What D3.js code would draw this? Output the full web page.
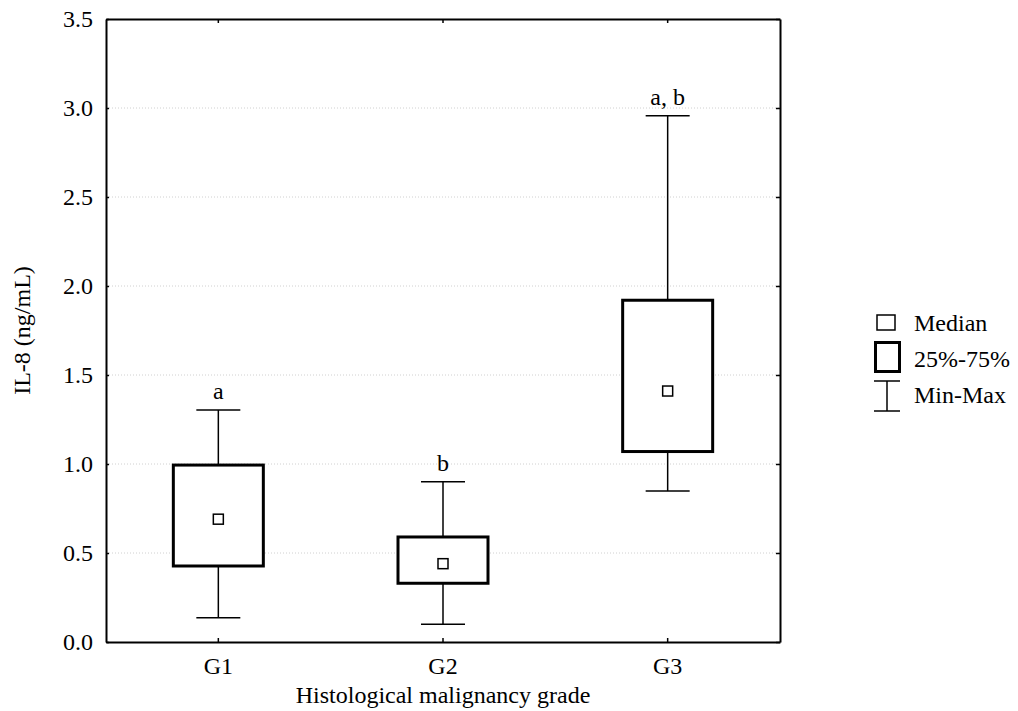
<!DOCTYPE html>
<html><head><meta charset="utf-8">
<script src="https://cdn.jsdelivr.net/npm/d3@7"></script>
<style>body{margin:0;background:#fff}svg{display:block}svg text{font-family:"Liberation Serif","Times New Roman",serif !important;fill:#000}</style>
</head><body>
<svg id="c" width="1018" height="711"></svg>
<script>
const categories = ["G1","G2","G3"];
const q1Values = [0.427, 0.33, 1.07];
const q3Values = [0.994, 0.59, 1.92];
const medianValues = [0.69, 0.44, 1.41];
const minValues = [0.136, 0.10, 0.848];
const maxValues = [1.303, 0.90, 2.957];
const groupLabels = ["a", "b", "a, b"];
const yTicks = [0, 0.5, 1.0, 1.5, 2.0, 2.5, 3.0, 3.5];

const svg = d3.select("#c");
const L = 106, R = 780, T = 19, B = 642;
const x = d3.scaleBand().domain(categories).range([L, R]);
const y = d3.scaleLinear().domain([0, 3.5]).range([B, T]);
const fs = 24;
const ff = '"Liberation Serif", "Times New Roman", serif';

// gridlines
svg.append("g").selectAll("line").data(yTicks.filter(d => d > 0 && d < 3.5)).join("line")
  .attr("x1", L).attr("x2", R).attr("y1", d => y(d)).attr("y2", d => y(d))
  .attr("stroke", "#d0d0d0").attr("stroke-width", 1).attr("stroke-dasharray", "1,2");

// axes
const fmt = d3.format(".1f");
const gl = svg.append("g").attr("transform", `translate(${L},0)`)
  .call(d3.axisLeft(y).tickValues(yTicks).tickFormat(fmt).tickSizeInner(-3).tickSizeOuter(0).tickPadding(13));
const gr = svg.append("g").attr("transform", `translate(${R},0)`)
  .call(d3.axisRight(y).tickValues(yTicks).tickFormat("").tickSizeInner(-4).tickSizeOuter(0));
const gb = svg.append("g").attr("transform", `translate(0,${B})`)
  .call(d3.axisBottom(x).tickSizeInner(-4).tickSizeOuter(0).tickPadding(15));
const gt = svg.append("g").attr("transform", `translate(0,${T})`)
  .call(d3.axisTop(x).tickFormat("").tickSizeInner(-4).tickSizeOuter(0));
[gl, gr, gb, gt].forEach(g => {
  g.attr("font-family", null).attr("font-size", null);
  g.selectAll("path").attr("stroke", "#000").attr("stroke-width", 2);
  g.selectAll("line").attr("stroke", "#000").attr("stroke-width", 1.5);
  g.selectAll("text").style("font-size", fs + "px").style("font-family", ff).attr("fill", "#000");
});
gb.selectAll("text").attr("dy", "0.71em");

const data = categories.map((c, i) => ({c, q1: q1Values[i], q3: q3Values[i], med: medianValues[i], mn: minValues[i], mx: maxValues[i], lab: groupLabels[i]}));
const boxW = 90, capW = 44, ms = 10;
const g = svg.append("g").selectAll("g").data(data).join("g")
  .attr("transform", d => `translate(${x(d.c) + x.bandwidth() / 2},0)`);
g.append("line").attr("x1", 0).attr("x2", 0).attr("y1", d => y(d.mx)).attr("y2", d => y(d.q3)).attr("stroke", "#000").attr("stroke-width", 1.5);
g.append("line").attr("x1", 0).attr("x2", 0).attr("y1", d => y(d.q1)).attr("y2", d => y(d.mn)).attr("stroke", "#000").attr("stroke-width", 1.5);
g.append("line").attr("x1", -capW / 2).attr("x2", capW / 2).attr("y1", d => y(d.mx)).attr("y2", d => y(d.mx)).attr("stroke", "#000").attr("stroke-width", 1.5);
g.append("line").attr("x1", -capW / 2).attr("x2", capW / 2).attr("y1", d => y(d.mn)).attr("y2", d => y(d.mn)).attr("stroke", "#000").attr("stroke-width", 1.5);
g.append("rect").attr("x", -boxW / 2).attr("width", boxW).attr("y", d => y(d.q3)).attr("height", d => y(d.q1) - y(d.q3))
  .attr("fill", "#fff").attr("stroke", "#000").attr("stroke-width", 3);
g.append("rect").attr("x", -ms / 2).attr("width", ms).attr("y", d => y(d.med) - ms / 2).attr("height", ms)
  .attr("fill", "#fff").attr("stroke", "#000").attr("stroke-width", 1.5);
g.append("text").attr("x", 0).attr("y", d => y(d.mx) - 11).attr("text-anchor", "middle").style("font-size", fs + "px").text(d => d.lab);

svg.append("text").attr("x", (L + R) / 2).attr("y", 703).attr("text-anchor", "middle").style("font-size", fs + "px").text("Histological malignancy grade");
svg.append("text").attr("transform", `translate(30,${(T + B) / 2}) rotate(-90)`).attr("text-anchor", "middle").style("font-size", fs + "px").text("IL-8 (ng/mL)");

const lg = svg.append("g");
lg.append("rect").attr("x", 877).attr("y", 315).attr("width", 18).attr("height", 15).attr("fill", "#fff").attr("stroke", "#000").attr("stroke-width", 1.5);
lg.append("text").attr("x", 914).attr("y", 331).style("font-size", fs + "px").text("Median");
lg.append("rect").attr("x", 875.5).attr("y", 342.5).attr("width", 24).attr("height", 29).attr("fill", "#fff").attr("stroke", "#000").attr("stroke-width", 3);
lg.append("text").attr("x", 914).attr("y", 367).style("font-size", fs + "px").text("25%-75%");
lg.append("line").attr("x1", 874).attr("x2", 900).attr("y1", 381).attr("y2", 381).attr("stroke", "#000").attr("stroke-width", 1.5);
lg.append("line").attr("x1", 874).attr("x2", 900).attr("y1", 411).attr("y2", 411).attr("stroke", "#000").attr("stroke-width", 1.5);
lg.append("line").attr("x1", 887).attr("x2", 887).attr("y1", 381).attr("y2", 411).attr("stroke", "#000").attr("stroke-width", 1.5);
lg.append("text").attr("x", 914).attr("y", 403).style("font-size", fs + "px").text("Min-Max");
</script>
</body></html>
